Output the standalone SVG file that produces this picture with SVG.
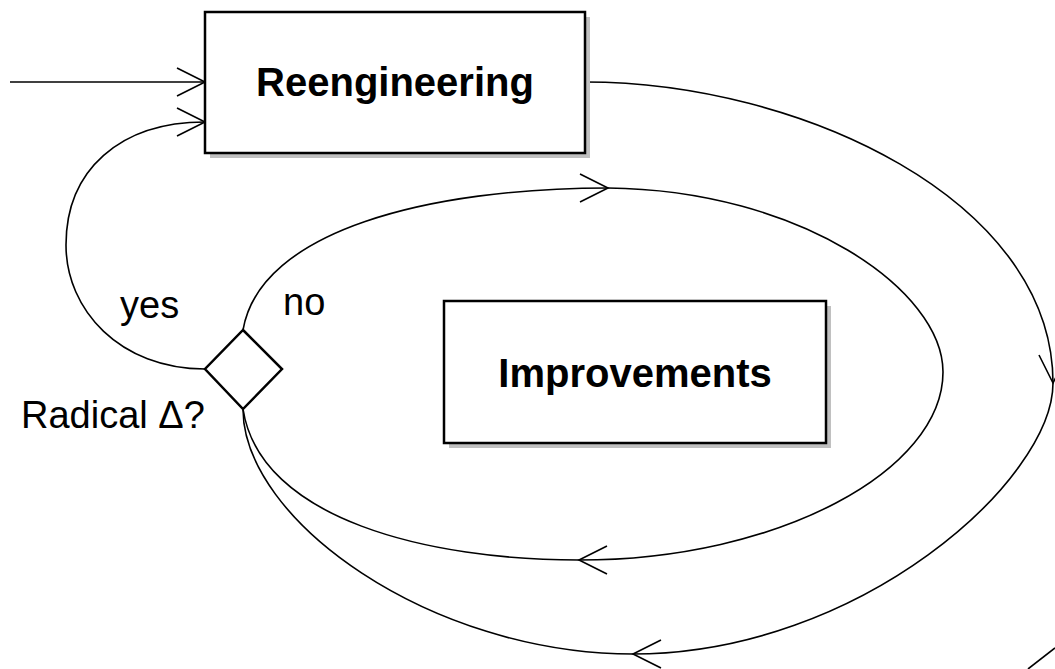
<svg xmlns="http://www.w3.org/2000/svg" width="1055" height="669" viewBox="0 0 1055 669">
  <style>
    .conn { fill: none; stroke: #000; stroke-width: 1.6; }
    .box { fill: #fff; stroke: #000; stroke-width: 2.5; }
    .shadow { fill: #c0c0c0; stroke: none; }
    .title { font-family: "Liberation Sans", Arial, sans-serif; font-weight: bold; font-size: 40px; fill: #000; text-anchor: middle; }
    .lbl { font-family: "Liberation Sans", Arial, sans-serif; font-size: 38px; fill: #000; }
  </style>
  <defs>
    <marker id="arr" markerWidth="40" markerHeight="40" viewBox="-35 -20 40 40" refX="0" refY="0" orient="auto" markerUnits="userSpaceOnUse" overflow="visible">
      <path d="M -28 -14 L 0 0 L -28 14" fill="none" stroke="#000" stroke-width="1.6"/>
    </marker>
  </defs>
  <rect width="1055" height="669" fill="#fff"/>
  <g id="connectors">
    <line class="conn" x1="10" y1="82" x2="205" y2="82" marker-end="url(#arr)"/>
    <path class="conn" d="M205,369 C120,369 66,310 66,245 C66,170 120,122 205,122" marker-end="url(#arr)"/>
    <path class="conn" d="M243,330 C260,230 430,188 608,188" marker-end="url(#arr)"/>
    <path class="conn" d="M608,188 C800,190 943,290 943,372 C943,470 780,560 579,560" marker-end="url(#arr)"/>
    <path class="conn" d="M579,560 C430,560 260,520 243,409"/>
    <path class="conn" d="M585,82 C800,82 1053,200 1053,383" marker-end="url(#arr)"/>
    <path class="conn" d="M1053,383 C1053,480 860,654 633,654" marker-end="url(#arr)"/>
    <path class="conn" d="M633,654 C430,654 243,520 243,409"/>
    <line class="conn" x1="1028" y1="669" x2="1055" y2="648" stroke-width="1.2"/>
  </g>
  <g id="reengineering">
    <rect class="shadow" x="210" y="17" width="380" height="141"/>
    <rect class="box" x="205" y="12" width="380" height="141"/>
    <text class="title" x="395" y="96">Reengineering</text>
  </g>
  <g id="improvements">
    <rect class="shadow" x="449" y="306" width="382" height="142"/>
    <rect class="box" x="444" y="301" width="382" height="142"/>
    <text class="title" x="635" y="387">Improvements</text>
  </g>
  <g id="decision">
    <polygon class="box" points="243,330 282,369 243,409 205,369"/>
    <text class="lbl" x="21" y="428">Radical Δ?</text>
  </g>
  <g id="labels">
    <text class="lbl" x="120" y="318">yes</text>
    <text class="lbl" x="283" y="315">no</text>
  </g>
</svg>
